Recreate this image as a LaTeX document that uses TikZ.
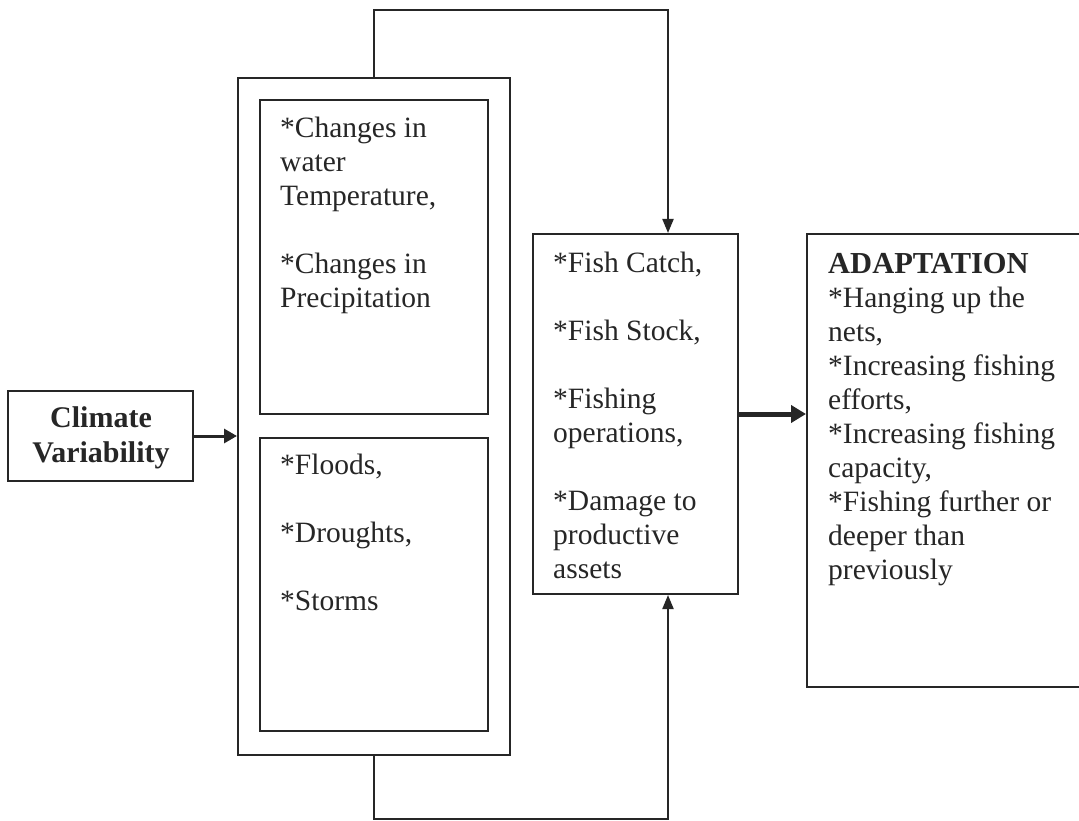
\documentclass[tikz,border=0pt]{standalone}
\usepackage{fontspec}
\setmainfont{Liberation Serif}
\usetikzlibrary{arrows.meta}
\definecolor{ink}{HTML}{262626}
\tikzset{
  box/.style={draw=ink, line width=2pt, inner sep=0pt, anchor=north west},
  txt/.style={anchor=base west, align=left, inner sep=0pt, text=ink,
    font=\fontsize{29.5}{34}\selectfont},
  conn/.style={draw=ink, line width=2pt, -{Triangle[length=14pt,width=11pt]}},
  arr/.style={draw=ink, line width=3pt, -{Triangle[length=13pt,width=14pt]}},
  thick arr/.style={draw=ink, line width=5pt, -{Triangle[length=15pt,width=17pt]}}
}
\begin{document}
\begin{tikzpicture}[x=1pt,y=-1pt]
\useasboundingbox (0,0) rectangle (1079,821);
% boxes
\node[box, minimum width=185pt, minimum height=90pt] (clim) at (7,390) {};
\node[box, minimum width=272pt, minimum height=677pt] (outer) at (237,77) {};
\node[box, minimum width=228pt, minimum height=314pt] (itop) at (259,99) {};
\node[box, minimum width=228pt, minimum height=293pt] (ibot) at (259,437) {};
\node[box, minimum width=205pt, minimum height=360pt] (mid) at (532,233) {};
\node[box, minimum width=273pt, minimum height=453pt] (adapt) at (806,233) {};
% texts (base anchor = baseline of last line)
\node[anchor=base, align=center, inner sep=0pt, text=ink,
  font=\fontsize{30}{35}\selectfont\bfseries] (climtxt) at (101,462) {Climate\\Variability};
\node[txt] (ttop) at (280,307) {*Changes in\\water\\Temperature,\\[34pt]*Changes in\\Precipitation};
\node[txt] (tbot) at (280,610) {*Floods,\\[34pt]*Droughts,\\[34pt]*Storms};
\node[txt] (tmid) at (553,578) {*Fish Catch,\\[34pt]*Fish Stock,\\[34pt]*Fishing\\operations,\\[34pt]*Damage to\\productive\\assets};
\node[txt] (tad) at (828,579) {{\fontsize{30.5}{34}\selectfont\bfseries ADAPTATION}\\*Hanging up the\\nets,\\*Increasing fishing\\efforts,\\*Increasing fishing\\capacity,\\*Fishing further or\\deeper than\\previously};
% connectors
\coordinate (tx) at (668,10);
\coordinate (bx) at (668,819);
\draw[conn] (outer.north) |- (tx) -- (tx |- mid.north);
\draw[conn] (outer.south) |- (bx) -- (bx |- mid.south);
\draw[arr] (clim.east) -- (clim.east -| outer.west);
\draw[thick arr] (mid.east) -- (mid.east -| adapt.west);
\end{tikzpicture}
\end{document}
